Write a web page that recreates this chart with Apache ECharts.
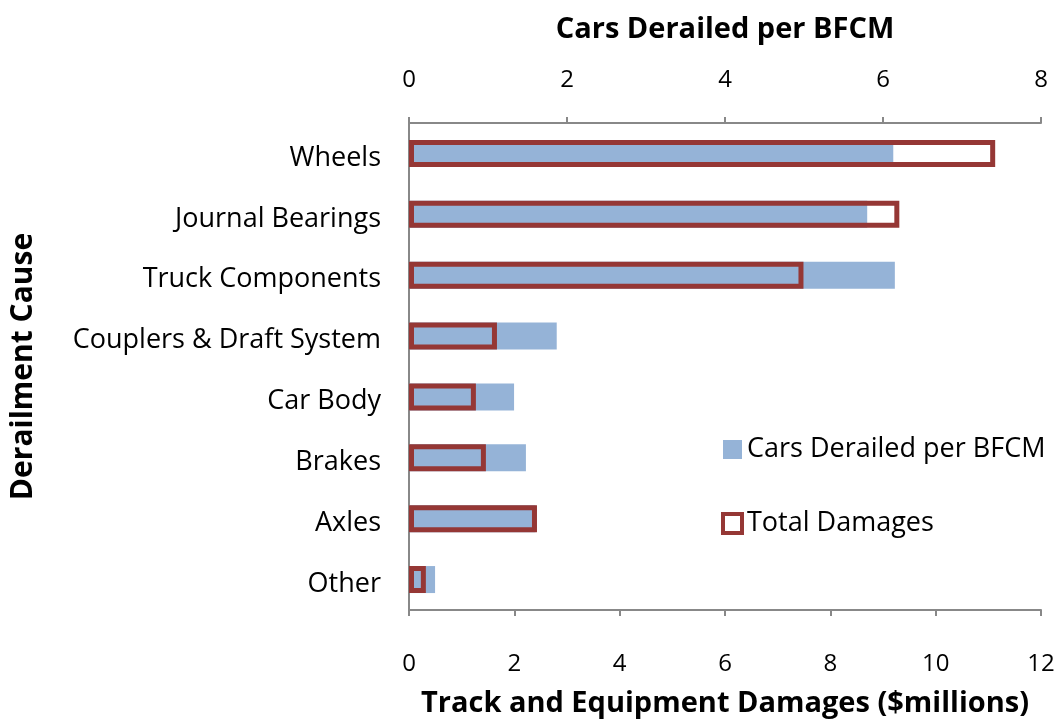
<!DOCTYPE html>
<html><head><meta charset="utf-8">
<script src="https://cdn.jsdelivr.net/npm/echarts@6/dist/echarts.min.js"></script>
<style>html,body{margin:0;padding:0;background:#fff}#c{width:1059px;height:719px}</style>
</head><body><div id="c"></div>
<script>
const categories = ["Wheels","Journal Bearings","Truck Components","Couplers & Draft System","Car Body","Brakes","Axles","Other"];
const carsDerailed = [6.13, 5.80, 6.15, 1.87, 1.33, 1.48, 1.60, 0.33];
const totalDamages = [11.13, 9.31, 7.49, 1.67, 1.27, 1.46, 2.43, 0.32];
const topTicks = [0, 8, 2];      // min, max, interval
const bottomTicks = [0, 12, 2];

const FONT = "Open Sans";
const chart = echarts.init(document.getElementById('c'));
chart.setOption({
  animation: false,
  textStyle: {fontFamily: FONT, color: '#000'},
  grid: {left: 409, right: 18, top: 123, bottom: 109, containLabel: false, outerBoundsMode: 'none'},
  legend: {
    orient: 'vertical', left: 716, top: 431, itemGap: 47,
    itemWidth: 19, itemHeight: 19, itemTextGap: 8,
    textStyle: {fontSize: 27, fontFamily: FONT, color: '#000'},
    data: [
      {name: 'Cars Derailed per BFCM', icon: 'rect', itemStyle: {color: '#95b3d7', borderWidth: 0}},
      {name: 'Total Damages', icon: 'rect', itemStyle: {color: '#fff', borderColor: '#953735', borderWidth: 4}}
    ]
  },
  yAxis: {
    type: 'category', data: categories, inverse: true,
    axisLine: {lineStyle: {color: '#888', width: 2}},
    axisTick: {length: 6, lineStyle: {color: '#888', width: 2}},
    axisLabel: {
      color: '#000', margin: 28,
      formatter: v => '{a|' + v + '}',
      rich: {a: {fontSize: 27, fontFamily: FONT, color: '#000', padding: [9, 0, 0, 0]}}
    },
    name: 'Derailment Cause', nameLocation: 'middle', nameGap: 371,
    nameTextStyle: {fontSize: 30, fontWeight: 'bold', color: '#000'}
  },
  xAxis: [
    {
      type: 'value', position: 'bottom', min: bottomTicks[0], max: bottomTicks[1], interval: bottomTicks[2],
      splitLine: {show: false},
      axisLine: {show: true, lineStyle: {color: '#888', width: 2}},
      axisTick: {show: true, length: 6, lineStyle: {color: '#888', width: 2}},
      axisLabel: {fontSize: 24, color: '#000', margin: 42},
      name: 'Track and Equipment Damages ($millions)', nameLocation: 'middle', nameGap: 79,
      nameTextStyle: {fontSize: 29, fontWeight: 'bold', color: '#000'}
    },
    {
      type: 'value', position: 'top', min: topTicks[0], max: topTicks[1], interval: topTicks[2],
      splitLine: {show: false},
      axisLine: {show: true, lineStyle: {color: '#888', width: 2}},
      axisTick: {show: true, length: 6, lineStyle: {color: '#888', width: 2}},
      axisLabel: {fontSize: 24, color: '#000', margin: 31},
      name: 'Cars Derailed per BFCM', nameLocation: 'middle', nameGap: 79,
      nameTextStyle: {fontSize: 29, fontWeight: 'bold', color: '#000'}
    }
  ],
  series: [
    {
      name: 'Cars Derailed per BFCM', type: 'bar', xAxisIndex: 1, data: carsDerailed,
      barWidth: 27, barGap: '-100%',
      itemStyle: {color: '#95b3d7'}
    },
    {
      name: 'Total Damages', type: 'bar', xAxisIndex: 0, data: totalDamages,
      barWidth: 27, barGap: '-100%', z: 3,
      itemStyle: {color: 'rgba(0,0,0,0)', borderColor: '#953735', borderWidth: 5}
    }
  ]
});
</script></body></html>
